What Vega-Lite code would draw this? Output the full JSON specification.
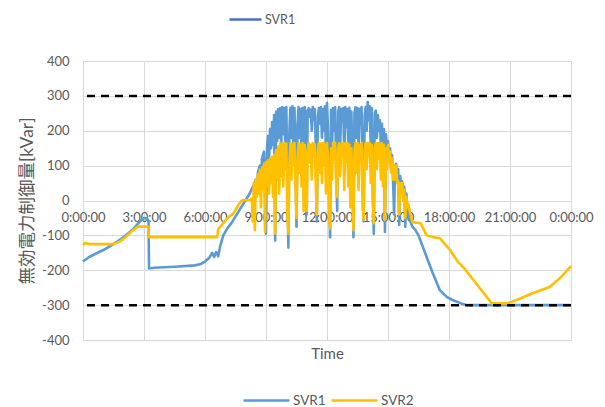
{
"$schema":"https://vega.github.io/schema/vega-lite/v6.json",
"width":488,"height":279,
"autosize":{"type":"none"},
"padding":{"left":83,"top":61,"right":34,"bottom":67},
"background":"white",
"config":{"view":{"stroke":null},"font":"Lato, 'Noto Sans CJK JP'","axis":{"labelOverlap":false,"labelBound":false}},
"datasets":{
"svr1":[
{"hour":0,"kvar":-175},{"hour":0.3,"kvar":-162},{"hour":1,"kvar":-142},{"hour":1.5,"kvar":-125},{"hour":2,"kvar":-105},{"hour":2.5,"kvar":-80},{"hour":2.8,"kvar":-60},{"hour":3,"kvar":-50},{"hour":3.15,"kvar":-52},{"hour":3.22,"kvar":-60},{"hour":3.25,"kvar":-195},{"hour":3.5,"kvar":-193},{"hour":4.5,"kvar":-190},{"hour":5.5,"kvar":-186},{"hour":5.8,"kvar":-182},{"hour":6.0,"kvar":-175},{"hour":6.2,"kvar":-165},{"hour":6.35,"kvar":-150},{"hour":6.45,"kvar":-162},{"hour":6.55,"kvar":-148},{"hour":6.65,"kvar":-160},{"hour":6.75,"kvar":-130},{"hour":6.9,"kvar":-100},{"hour":7.1,"kvar":-80},{"hour":7.3,"kvar":-65},{"hour":7.6,"kvar":-36},{"hour":7.9,"kvar":-8},{"hour":8.2,"kvar":20},{"hour":8.4,"kvar":45},{"hour":8.5,"kvar":60},
{"hour":8.55,"kvar":20},{"hour":8.6,"kvar":80},{"hour":8.7,"kvar":100},{"hour":8.75,"kvar":40},{"hour":8.8,"kvar":120},{"hour":8.9,"kvar":140},{"hour":8.95,"kvar":60},{"hour":9.0,"kvar":-95},{"hour":9.05,"kvar":150},{"hour":9.1,"kvar":185},{"hour":9.15,"kvar":120},{"hour":9.2,"kvar":205},{"hour":9.25,"kvar":150},{"hour":9.3,"kvar":225},{"hour":9.35,"kvar":160},{"hour":9.4,"kvar":245},{"hour":9.45,"kvar":-115},{"hour":9.5,"kvar":255},{"hour":9.55,"kvar":170},{"hour":9.6,"kvar":262},{"hour":9.65,"kvar":180},{"hour":9.7,"kvar":265},{"hour":9.75,"kvar":160},{"hour":9.8,"kvar":268},{"hour":9.85,"kvar":190},{"hour":9.9,"kvar":265},{"hour":9.95,"kvar":150},{"hour":10.0,"kvar":268},{"hour":10.05,"kvar":60},{"hour":10.1,"kvar":-135},{"hour":10.15,"kvar":200},{"hour":10.2,"kvar":266},{"hour":10.25,"kvar":180},{"hour":10.3,"kvar":270},{"hour":10.35,"kvar":150},{"hour":10.4,"kvar":265},{"hour":10.45,"kvar":120},{"hour":10.5,"kvar":-75},{"hour":10.55,"kvar":220},{"hour":10.6,"kvar":268},{"hour":10.65,"kvar":180},{"hour":10.7,"kvar":262},{"hour":10.75,"kvar":140},{"hour":10.8,"kvar":265},{"hour":10.85,"kvar":100},{"hour":10.9,"kvar":268},{"hour":10.95,"kvar":250},{"hour":11.0,"kvar":-40},{"hour":11.05,"kvar":255},{"hour":11.1,"kvar":265},{"hour":11.15,"kvar":240},{"hour":11.2,"kvar":260},{"hour":11.25,"kvar":200},{"hour":11.3,"kvar":268},{"hour":11.35,"kvar":230},{"hour":11.4,"kvar":262},{"hour":11.45,"kvar":150},{"hour":11.5,"kvar":-60},{"hour":11.55,"kvar":240},{"hour":11.6,"kvar":265},{"hour":11.65,"kvar":220},{"hour":11.7,"kvar":268},{"hour":11.75,"kvar":180},{"hour":11.8,"kvar":262},{"hour":11.85,"kvar":200},{"hour":11.9,"kvar":270},{"hour":11.95,"kvar":120},{"hour":12.0,"kvar":280},{"hour":12.05,"kvar":200},{"hour":12.1,"kvar":40},{"hour":12.15,"kvar":-105},{"hour":12.2,"kvar":260},{"hour":12.25,"kvar":150},{"hour":12.3,"kvar":265},{"hour":12.35,"kvar":200},{"hour":12.4,"kvar":268},{"hour":12.45,"kvar":100},{"hour":12.5,"kvar":-30},{"hour":12.55,"kvar":255},{"hour":12.6,"kvar":268},{"hour":12.65,"kvar":160},{"hour":12.7,"kvar":262},{"hour":12.75,"kvar":230},{"hour":12.8,"kvar":265},{"hour":12.85,"kvar":120},{"hour":12.9,"kvar":268},{"hour":12.95,"kvar":210},{"hour":13.0,"kvar":262},{"hour":13.05,"kvar":150},{"hour":13.1,"kvar":266},{"hour":13.15,"kvar":60},{"hour":13.2,"kvar":255},{"hour":13.25,"kvar":100},{"hour":13.3,"kvar":-105},{"hour":13.35,"kvar":250},{"hour":13.4,"kvar":268},{"hour":13.45,"kvar":180},{"hour":13.5,"kvar":265},{"hour":13.55,"kvar":140},{"hour":13.6,"kvar":262},{"hour":13.65,"kvar":220},{"hour":13.7,"kvar":268},{"hour":13.75,"kvar":80},{"hour":13.8,"kvar":-60},{"hour":13.85,"kvar":240},{"hour":13.9,"kvar":268},{"hour":13.95,"kvar":200},{"hour":14.0,"kvar":282},{"hour":14.05,"kvar":230},{"hour":14.1,"kvar":270},{"hour":14.15,"kvar":160},{"hour":14.2,"kvar":265},{"hour":14.25,"kvar":60},{"hour":14.3,"kvar":-95},{"hour":14.35,"kvar":250},{"hour":14.4,"kvar":258},{"hour":14.45,"kvar":180},{"hour":14.5,"kvar":245},{"hour":14.55,"kvar":200},{"hour":14.6,"kvar":230},{"hour":14.65,"kvar":150},{"hour":14.7,"kvar":220},{"hour":14.75,"kvar":120},{"hour":14.8,"kvar":205},{"hour":14.85,"kvar":-90},{"hour":14.9,"kvar":190},{"hour":14.95,"kvar":140},{"hour":15.0,"kvar":170},{"hour":15.05,"kvar":110},{"hour":15.1,"kvar":150},{"hour":15.15,"kvar":90},{"hour":15.2,"kvar":130},{"hour":15.25,"kvar":60},{"hour":15.3,"kvar":-40},{"hour":15.35,"kvar":100},{"hour":15.4,"kvar":105},{"hour":15.45,"kvar":70},{"hour":15.5,"kvar":90},{"hour":15.55,"kvar":-70},{"hour":15.6,"kvar":70},{"hour":15.65,"kvar":40},{"hour":15.7,"kvar":55},{"hour":15.75,"kvar":20},{"hour":15.8,"kvar":40},{"hour":15.85,"kvar":-75},{"hour":15.9,"kvar":20},{"hour":15.95,"kvar":-20},{"hour":16.0,"kvar":-40},{"hour":16.1,"kvar":-60},{"hour":16.2,"kvar":-75},{"hour":16.35,"kvar":-85},{"hour":16.5,"kvar":-100},{"hour":16.9,"kvar":-162},{"hour":17.2,"kvar":-208},{"hour":17.55,"kvar":-257},{"hour":17.9,"kvar":-277},{"hour":18.2,"kvar":-286},{"hour":18.6,"kvar":-295},{"hour":18.9,"kvar":-300},{"hour":24,"kvar":-300}
],
"svr2":[
{"hour":0,"kvar":-128},{"hour":0.1,"kvar":-122},{"hour":0.3,"kvar":-125},{"hour":1.5,"kvar":-125},{"hour":1.8,"kvar":-118},{"hour":2.1,"kvar":-105},{"hour":2.4,"kvar":-88},{"hour":2.7,"kvar":-75},{"hour":3.2,"kvar":-75},{"hour":3.25,"kvar":-105},{"hour":6.6,"kvar":-105},{"hour":6.65,"kvar":-82},{"hour":6.9,"kvar":-65},{"hour":7.1,"kvar":-50},{"hour":7.4,"kvar":-37},{"hour":7.7,"kvar":-8},{"hour":7.8,"kvar":0},{"hour":8.2,"kvar":2},{"hour":8.3,"kvar":5},{"hour":8.35,"kvar":-60},{"hour":8.4,"kvar":50},{"hour":8.45,"kvar":-85},{"hour":8.5,"kvar":60},
{"hour":8.55,"kvar":10},{"hour":8.6,"kvar":75},{"hour":8.65,"kvar":20},{"hour":8.7,"kvar":88},{"hour":8.75,"kvar":-20},{"hour":8.8,"kvar":95},{"hour":8.85,"kvar":30},{"hour":8.9,"kvar":105},{"hour":8.95,"kvar":-90},{"hour":9.0,"kvar":110},{"hour":9.05,"kvar":40},{"hour":9.1,"kvar":115},{"hour":9.15,"kvar":20},{"hour":9.2,"kvar":120},{"hour":9.25,"kvar":50},{"hour":9.3,"kvar":125},{"hour":9.35,"kvar":10},{"hour":9.4,"kvar":130},{"hour":9.45,"kvar":-95},{"hour":9.5,"kvar":145},{"hour":9.55,"kvar":60},{"hour":9.6,"kvar":155},{"hour":9.65,"kvar":20},{"hour":9.7,"kvar":165},{"hour":9.75,"kvar":70},{"hour":9.8,"kvar":160},{"hour":9.85,"kvar":40},{"hour":9.9,"kvar":165},{"hour":9.95,"kvar":90},{"hour":10.0,"kvar":163},{"hour":10.05,"kvar":-40},{"hour":10.1,"kvar":-95},{"hour":10.15,"kvar":100},{"hour":10.2,"kvar":165},{"hour":10.25,"kvar":60},{"hour":10.3,"kvar":162},{"hour":10.35,"kvar":100},{"hour":10.4,"kvar":165},{"hour":10.45,"kvar":30},{"hour":10.5,"kvar":-50},{"hour":10.55,"kvar":120},{"hour":10.6,"kvar":165},{"hour":10.65,"kvar":80},{"hour":10.7,"kvar":160},{"hour":10.75,"kvar":40},{"hour":10.8,"kvar":165},{"hour":10.85,"kvar":-30},{"hour":10.9,"kvar":160},{"hour":10.95,"kvar":120},{"hour":11.0,"kvar":-30},{"hour":11.05,"kvar":140},{"hour":11.1,"kvar":165},{"hour":11.15,"kvar":110},{"hour":11.2,"kvar":160},{"hour":11.25,"kvar":60},{"hour":11.3,"kvar":165},{"hour":11.35,"kvar":130},{"hour":11.4,"kvar":162},{"hour":11.45,"kvar":40},{"hour":11.5,"kvar":-40},{"hour":11.55,"kvar":140},{"hour":11.6,"kvar":165},{"hour":11.65,"kvar":80},{"hour":11.7,"kvar":163},{"hour":11.75,"kvar":50},{"hour":11.8,"kvar":165},{"hour":11.85,"kvar":100},{"hour":11.9,"kvar":160},{"hour":11.95,"kvar":20},{"hour":12.0,"kvar":165},{"hour":12.05,"kvar":120},{"hour":12.1,"kvar":-40},{"hour":12.15,"kvar":-80},{"hour":12.2,"kvar":150},{"hour":12.25,"kvar":60},{"hour":12.3,"kvar":165},{"hour":12.35,"kvar":120},{"hour":12.4,"kvar":165},{"hour":12.45,"kvar":40},{"hour":12.5,"kvar":10},{"hour":12.55,"kvar":150},{"hour":12.6,"kvar":165},{"hour":12.65,"kvar":70},{"hour":12.7,"kvar":160},{"hour":12.75,"kvar":130},{"hour":12.8,"kvar":165},{"hour":12.85,"kvar":30},{"hour":12.9,"kvar":163},{"hour":12.95,"kvar":110},{"hour":13.0,"kvar":165},{"hour":13.05,"kvar":40},{"hour":13.1,"kvar":160},{"hour":13.15,"kvar":-20},{"hour":13.2,"kvar":150},{"hour":13.25,"kvar":20},{"hour":13.3,"kvar":-85},{"hour":13.35,"kvar":140},{"hour":13.4,"kvar":165},{"hour":13.45,"kvar":80},{"hour":13.5,"kvar":165},{"hour":13.55,"kvar":30},{"hour":13.6,"kvar":160},{"hour":13.65,"kvar":120},{"hour":13.7,"kvar":165},{"hour":13.75,"kvar":-20},{"hour":13.8,"kvar":-55},{"hour":13.85,"kvar":140},{"hour":13.9,"kvar":165},{"hour":13.95,"kvar":90},{"hour":14.0,"kvar":165},{"hour":14.05,"kvar":130},{"hour":14.1,"kvar":165},{"hour":14.15,"kvar":50},{"hour":14.2,"kvar":160},{"hour":14.25,"kvar":-10},{"hour":14.3,"kvar":-65},{"hour":14.35,"kvar":150},{"hour":14.4,"kvar":165},{"hour":14.45,"kvar":90},{"hour":14.5,"kvar":165},{"hour":14.55,"kvar":120},{"hour":14.6,"kvar":162},{"hour":14.65,"kvar":60},{"hour":14.7,"kvar":165},{"hour":14.75,"kvar":40},{"hour":14.8,"kvar":160},{"hour":14.85,"kvar":-55},{"hour":14.9,"kvar":150},{"hour":14.95,"kvar":90},{"hour":15.0,"kvar":160},{"hour":15.05,"kvar":110},{"hour":15.1,"kvar":140},{"hour":15.15,"kvar":80},{"hour":15.2,"kvar":120},{"hour":15.25,"kvar":60},{"hour":15.3,"kvar":100},{"hour":15.35,"kvar":60},{"hour":15.4,"kvar":100},{"hour":15.45,"kvar":50},{"hour":15.5,"kvar":55},{"hour":15.55,"kvar":-40},{"hour":15.6,"kvar":50},{"hour":15.65,"kvar":20},{"hour":15.7,"kvar":50},{"hour":15.75,"kvar":0},{"hour":15.8,"kvar":30},{"hour":15.85,"kvar":-50},{"hour":15.9,"kvar":10},{"hour":15.95,"kvar":-20},{"hour":16.0,"kvar":-10},{"hour":16.1,"kvar":-40},{"hour":16.2,"kvar":-62},{"hour":16.6,"kvar":-65},{"hour":16.9,"kvar":-100},{"hour":17.2,"kvar":-105},{"hour":17.55,"kvar":-108},{"hour":18.05,"kvar":-142},{"hour":18.45,"kvar":-177},{"hour":18.7,"kvar":-191},{"hour":19.2,"kvar":-228},{"hour":19.9,"kvar":-280},{"hour":20.1,"kvar":-295},{"hour":20.85,"kvar":-295},{"hour":21.3,"kvar":-286},{"hour":22.1,"kvar":-266},{"hour":22.95,"kvar":-248},{"hour":23.45,"kvar":-223},{"hour":24,"kvar":-188}
],
"limits":[{"hour":0,"kvar":300},{"hour":0,"kvar":-300}],
"top":[{"series":"SVR1"}]
},
"layer":[
{"data":{"name":"svr1"},"transform":[{"calculate":"'SVR1'","as":"series"}],
"mark":{"type":"line","strokeWidth":2.6,"strokeJoin":"round"},
"encoding":{
"x":{"field":"hour","type":"quantitative","scale":{"domain":[0,24],"nice":false,"zero":false},
"axis":{"values":[0,3,6,9,12,15,18,21,24],"labelExpr":"(datum.value % 24) + ':00:00'","grid":true,"gridColor":"#d9d9d9","gridWidth":1,"domain":false,"ticks":false,"offset":-139.5,"labelPadding":11,"labelFontSize":13,"labelColor":"#595959","labelFlush":false,"labelOverlap":false,"labelBound":false,"title":"Time","titleFontSize":15,"titleColor":"#595959","titleFontWeight":"normal","titleBaseline":"middle","titleY":153}},
"y":{"field":"kvar","type":"quantitative","scale":{"domain":[-400,400],"nice":false},
"axis":{"tickCount":9,"labelExpr":"'' + datum.value","labelOverlap":false,"labelBound":false,"labelFlush":false,"title":"無効電力制御量[kVar]","grid":true,"gridColor":"#d9d9d9","gridWidth":1,"domain":false,"ticks":false,"labelPadding":14,"labelFontSize":13,"labelColor":"#595959","titleFontSize":17.5,"titleColor":"#595959","titleFontWeight":"normal","titlePadding":5}},
"color":{"field":"series","type":"nominal","scale":{"domain":["SVR1","SVR2"],"range":["#5B9BD5","#FFC000"]},
"legend":{"orient":"none","legendX":159,"legendY":315,"direction":"horizontal","title":null,"symbolType":"stroke","symbolSize":2116,"symbolStrokeWidth":2.5,"labelFontSize":13.5,"labelColor":"#595959","labelOffset":2,"columnPadding":0,"padding":0}}
}},
{"data":{"name":"svr2"},"transform":[{"calculate":"'SVR2'","as":"series"}],
"mark":{"type":"line","strokeWidth":2.6,"strokeJoin":"round"},
"encoding":{
"x":{"field":"hour","type":"quantitative"},
"y":{"field":"kvar","type":"quantitative"},
"color":{"field":"series","type":"nominal"}
}},
{"data":{"name":"limits"},
"mark":{"type":"rule","color":"black","strokeWidth":2.5,"strokeDash":[8,6]},
"encoding":{"y":{"field":"kvar","type":"quantitative"}}},
{"data":{"name":"top"},"transform":[{"filter":"datum.series == 'none'"}],
"mark":{"type":"line","color":"#4472C4"},
"encoding":{
"strokeDash":{"field":"series","type":"nominal","scale":{"domain":["SVR1"],"range":[[1,0]]},
"legend":{"orient":"none","legendX":145,"legendY":-59,"direction":"horizontal","title":null,"symbolType":"stroke","symbolSize":1024,"symbolStrokeWidth":2.5,"symbolStrokeColor":"#4472C4","labelFontSize":12.5,"labelColor":"#595959","labelOffset":2,"padding":0}}
}}
]
}
